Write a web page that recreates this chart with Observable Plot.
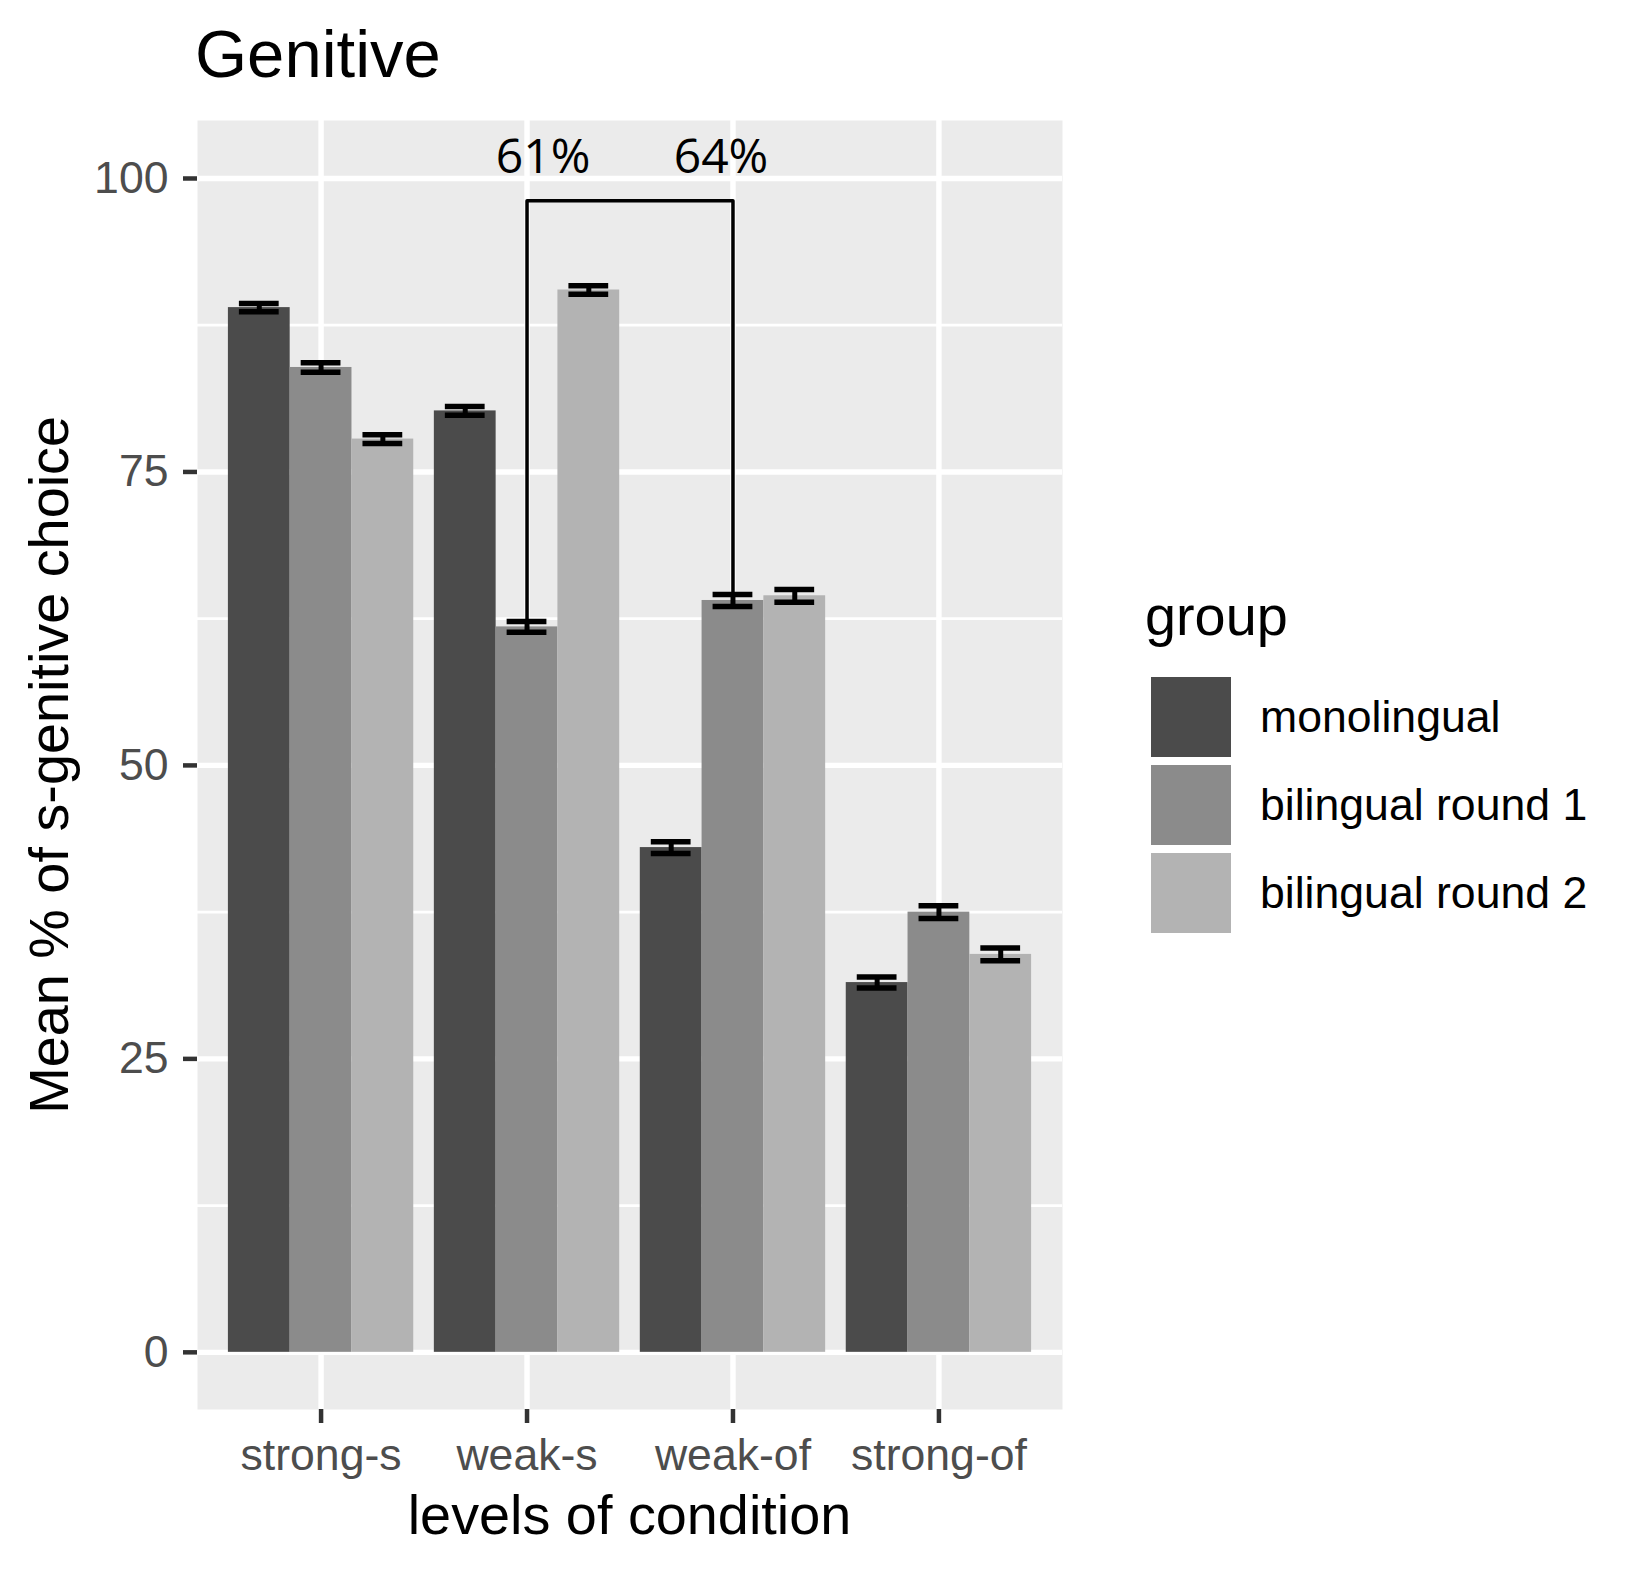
<!DOCTYPE html>
<html>
<head>
<meta charset="utf-8">
<script src="https://cdn.jsdelivr.net/npm/d3@7"></script>
<script src="https://cdn.jsdelivr.net/npm/@observablehq/plot@0.6"></script>
<style>
  html, body { margin: 0; padding: 0; background: #fff; }
  #wrap { position: relative; width: 1650px; height: 1572px; font-family: "Liberation Sans", Arial, sans-serif; }
  #wrap svg { position: absolute; left: 0; top: 0; }
  .abs { position: absolute; line-height: 1; white-space: nowrap; color: #000; }
</style>
</head>
<body>
<div id="wrap"></div>
<script>
// ---- data ----
const conditions = ["strong-s", "weak-s", "weak-of", "strong-of"];
const groups = ["monolingual", "bilingual round 1", "bilingual round 2"];
const groupColors = ["#4B4B4B", "#8B8B8B", "#B3B3B3"];
const monolingual = [89.0, 80.2, 43.0, 31.5];
const bilingualRound1 = [83.9, 61.8, 64.05, 37.5];
const bilingualRound2 = [77.8, 90.5, 64.45, 33.9];
const errMonolingual = [0.35, 0.38, 0.5, 0.47];
const errBilingualRound1 = [0.41, 0.45, 0.51, 0.55];
const errBilingualRound2 = [0.37, 0.36, 0.54, 0.55];
const yTicks = [0, 25, 50, 75, 100];
const yMinorTicks = [12.5, 37.5, 62.5, 87.5];
const bracketConditions = ["weak-s", "weak-of"];
const bracketLabels = ["61%", "64%"];
const bracketTop = 98.1;
const bracketLabelY = 100.43;

const titleText = "Genitive";
const xTitle = "levels of condition";
const yTitle = "Mean % of s-genitive choice";
const legendTitle = "group";

// ---- layout ----
const W = 1650, H = 1572;
const mL = 197, mR = 588, mT = 120, mB = 163;
const panelW = W - mL - mR;
const step = panelW / 4.2;
const bw = 0.3 * step;

const seriesValues = [monolingual, bilingualRound1, bilingualRound2];
const seriesErr = [errMonolingual, errBilingualRound1, errBilingualRound2];
const rows = [];
groups.forEach((g, gi) => conditions.forEach((c, ci) => {
  rows.push({condition: c, group: g, gi, value: seriesValues[gi][ci], err: seriesErr[gi][ci]});
}));

// bracket built from the bilingual round 1 bars' error tops
const b1 = rows.filter(d => d.gi === 1);
const leftBar = b1.find(d => d.condition === bracketConditions[0]);
const rightBar = b1.find(d => d.condition === bracketConditions[1]);
const bracketPts = [
  {condition: bracketConditions[0], y: leftBar.value + leftBar.err},
  {condition: bracketConditions[0], y: bracketTop},
  {condition: bracketConditions[1], y: bracketTop},
  {condition: bracketConditions[1], y: rightBar.value + rightBar.err}
];
const labelDx = [16, -12];

const marks = [
  Plot.frame({fill: "#EBEBEB", stroke: "none"}),
  Plot.ruleY(yMinorTicks, {stroke: "#FFFFFF", strokeWidth: 2.7}),
  Plot.ruleY(yTicks, {stroke: "#FFFFFF", strokeWidth: 5.4}),
  Plot.ruleX(conditions, {stroke: "#FFFFFF", strokeWidth: 5.4})
];
groups.forEach((g, gi) => {
  const data = rows.filter(d => d.gi === gi);
  const dx = (gi - 1) * bw;
  marks.push(Plot.barY(data, {x: "condition", y1: 0, y2: "value", fill: groupColors[gi], dx}));
});
groups.forEach((g, gi) => {
  const data = rows.filter(d => d.gi === gi);
  const dx = (gi - 1) * bw;
  marks.push(Plot.ruleX(data, {x: "condition", y1: d => d.value - d.err, y2: d => d.value + d.err, dx, stroke: "#000", strokeWidth: 5}));
  marks.push(Plot.tickY(data, {x: "condition", y: d => d.value + d.err, dx, insetLeft: 11, insetRight: 11, stroke: "#000", strokeWidth: 5.5}));
  marks.push(Plot.tickY(data, {x: "condition", y: d => d.value - d.err, dx, insetLeft: 11, insetRight: 11, stroke: "#000", strokeWidth: 5.5}));
});
marks.push(Plot.line(bracketPts, {x: "condition", y: "y", stroke: "#000", strokeWidth: 3.5, curve: "linear"}));
bracketLabels.forEach((lab, i) => {
  marks.push(Plot.text([{condition: bracketConditions[i], label: lab}], {
    x: "condition", y: () => bracketLabelY, text: "label", dx: labelDx[i],
    fontSize: 48, fontFamily: "Open Sans", fontWeight: 500, lineAnchor: "bottom", fill: "#000"
  }));
});
marks.push(Plot.axisX({tickSize: 14, tickPadding: 15, fontSize: 44.6, fill: "#4D4D4D", stroke: "#333333", strokeWidth: 4.5, label: null}));
marks.push(Plot.axisY({ticks: yTicks, tickSize: 14, tickPadding: 15, fontSize: 44.6, fill: "#4D4D4D", stroke: "#333333", strokeWidth: 4.5, label: null}));

const chart = Plot.plot({
  width: W, height: H,
  marginTop: mT, marginBottom: mB, marginLeft: mL, marginRight: mR,
  style: {fontFamily: "'Liberation Sans', Arial, sans-serif", background: "transparent", overflow: "visible"},
  x: {domain: conditions, type: "band", paddingInner: 0.7, paddingOuter: 0.45, align: 0.5, round: false},
  y: {domain: [-4.87, 104.94]},
  marks
});

const wrap = document.getElementById("wrap");
wrap.appendChild(chart);

function addText(txt, size, left, top, extra) {
  const el = document.createElement("div");
  el.className = "abs";
  el.textContent = txt;
  el.style.fontSize = size + "px";
  el.style.left = left + "px";
  el.style.top = top + "px";
  if (extra) Object.assign(el.style, extra);
  wrap.appendChild(el);
  return el;
}
const asc = 0.8465;
// title
addText(titleText, 67, 195, 77 - asc * 67);
// x title
addText(xTitle, 55.8, mL + panelW / 2 - 400, 1534 - asc * 55.8, {width: "800px", textAlign: "center"});
// y title (rotated)
const panelCy = (mT + (H - mB)) / 2;
addText(yTitle, 55.8, 48.7 - 400, panelCy - 27.9, {width: "800px", height: "55.8px", textAlign: "center", transform: "rotate(-90deg)", transformOrigin: "50% 50%"});
// legend
addText(legendTitle, 55.8, 1145, 635 - asc * 55.8);
groups.forEach((g, i) => {
  const top = 677 + i * 88;
  const key = document.createElement("div");
  key.style.cssText = `position:absolute;left:1151px;top:${top}px;width:80px;height:80px;background:${groupColors[i]};`;
  wrap.appendChild(key);
  addText(g, 44.6, 1260, top + 40 - 22.3, {height: "44.6px", lineHeight: "44.6px"});
});
</script>
</body>
</html>
